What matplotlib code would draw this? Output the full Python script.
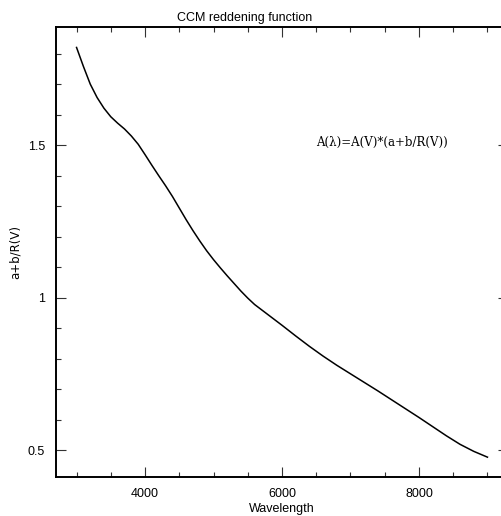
import numpy as np
import matplotlib
matplotlib.use('Agg')
import matplotlib.pyplot as plt
from matplotlib.ticker import MultipleLocator, FormatStrFormatter

# values
wavelength = [3000, 3100, 3200, 3300, 3400, 3500, 3600, 3700, 3800, 3900,
              4000, 4100, 4200, 4300, 4400, 4500, 4600, 4700, 4800, 4900,
              5000, 5100, 5200, 5300, 5400, 5500, 5600, 5800, 6000, 6200,
              6400, 6600, 6800, 7000, 7200, 7400, 7600, 7800, 8000, 8200,
              8400, 8600, 8800, 9000]
ratio = [1.820, 1.758, 1.700, 1.656, 1.621, 1.593, 1.572, 1.553, 1.530, 1.503,
         1.469, 1.434, 1.400, 1.367, 1.332, 1.294, 1.256, 1.220, 1.186, 1.154,
         1.125, 1.098, 1.072, 1.047, 1.022, 0.999, 0.978, 0.944, 0.910, 0.875,
         0.841, 0.809, 0.779, 0.751, 0.723, 0.695, 0.666, 0.637, 0.608, 0.578,
         0.548, 0.520, 0.497, 0.478]

plt.rcParams['font.family'] = ['Liberation Sans', 'DejaVu Sans']

fig = plt.figure(figsize=(5.01, 5.16), dpi=100)
ax = fig.add_axes([56/501, 39/516, 452/501, 450/516])

ax.plot(wavelength, ratio, color='black', lw=1.1)

ax.set_xlim(2700, 9300)
ax.set_ylim(0.413, 1.887)

ax.xaxis.set_major_locator(MultipleLocator(2000))
ax.xaxis.set_minor_locator(MultipleLocator(500))
ax.yaxis.set_major_locator(MultipleLocator(0.5))
ax.yaxis.set_minor_locator(MultipleLocator(0.1))
ax.yaxis.set_major_formatter(FormatStrFormatter('%g'))

ax.tick_params(which='both', direction='in', top=True, right=True,
               labelsize=9, width=0.8, color='#333333')
ax.tick_params(which='major', length=7, pad=8)
ax.tick_params(which='minor', length=3.5)
for s in ax.spines.values():
    s.set_linewidth(1.4)

ax.set_xlabel('Wavelength', fontsize=9)
ax.xaxis.set_label_coords(0.5, -0.058)
ax.set_ylabel('a+b/R(V)', fontsize=8.5, family='DejaVu Sans', va='center')
ax.yaxis.set_label_coords(-0.091, 0.5)

ax.text(6500, 1.508, 'A(\u03bb)=A(V)*(a+b/R(V))', fontsize=8.5,
        family='DejaVu Serif', va='center', ha='left')

fig.text(245/501, 1 - 18/516, 'CCM reddening function', fontsize=9,
         ha='center', va='center')

fig.savefig('out.png', dpi=100)
